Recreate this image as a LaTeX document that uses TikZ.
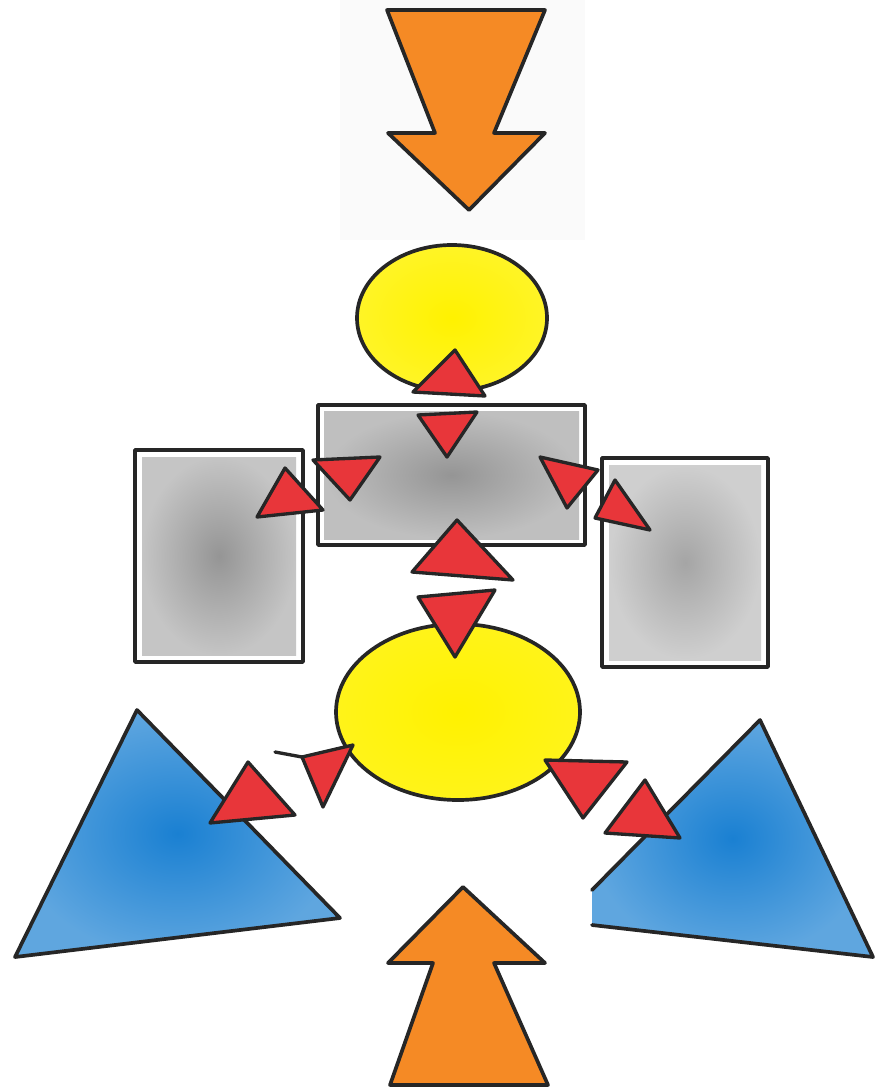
\documentclass[tikz,border=0pt]{standalone}
\usetikzlibrary{shapes.geometric}
\definecolor{torange}{HTML}{F58A25}
\definecolor{tyellow}{HTML}{FFF200}
\definecolor{tblue}{HTML}{1A80D2}
\definecolor{tred}{HTML}{E8363A}
\definecolor{tgray}{HTML}{959595}
\tikzset{
  ink/.style={draw=black!85, line width=2.1pt, line join=round, line cap=round},
  redtri/.style={ink, fill=tred, line width=1.9pt},
}
\begin{document}
\begin{tikzpicture}[x=0.02cm,y=-0.02cm]
\useasboundingbox (0,0) rectangle (879,1091);
\fill[white] (0,0) rectangle (879,1091);
% faint background behind top arrow
\fill[black!2] (340,0) rectangle (585,240);

% top arrow (pointing down)
\coordinate (ta1) at (387,10);
\coordinate (ta2) at (545,10);
\coordinate (ta3) at (494,133);
\coordinate (ta4) at (545,133);
\coordinate (ta5) at (469,210);
\coordinate (ta6) at (388,133);
\coordinate (ta7) at (435,133);
\fill[torange] (ta1) -- (ta2) -- (ta3) -- (ta4) -- (ta5) -- (ta6) -- (ta7) -- cycle;
\draw[ink] (ta1) -- (ta2) -- (ta3) -- (ta4) -- (ta5) -- (ta6) -- (ta7) -- cycle;

% top yellow circle
\shade[inner color=tyellow, outer color=tyellow!85!white] (452,318) ellipse [x radius=95, y radius=73];
\draw[ink] (452,318) ellipse [x radius=95, y radius=73];

% side gray rectangles
\shade[inner color=tgray, outer color=tgray!55] (142,457) rectangle (296,655);
\draw[ink] (135,450) rectangle (303,662);
\shade[inner color=tgray!85, outer color=tgray!45] (609,465) rectangle (761,660);
\draw[ink] (602,458) rectangle (768,667);

% center gray rectangle
\shade[inner color=tgray, outer color=tgray!60] (324,411) rectangle (579,539);
\draw[ink] (318,405) rectangle (585,545);

% bottom yellow circle
\shade[inner color=tyellow, outer color=tyellow!90!white] (458,712) ellipse [x radius=122, y radius=88];
\draw[ink] (458,712) ellipse [x radius=122, y radius=88];

% blue triangles
\shade[inner color=tblue, outer color=tblue!70!white] (137,710) -- (15,957) -- (340,918) -- cycle;
\draw[ink] (137,710) -- (15,957) -- (340,918) -- cycle;
\shade[inner color=tblue, outer color=tblue!70!white] (760,720) -- (873,957) -- (592,925) -- (592,890) -- cycle;
\draw[ink] (592,890) -- (760,720) -- (873,957) -- (592,925);

% bottom arrow (pointing up)
\coordinate (ba1) at (390,1085);
\coordinate (ba2) at (548,1085);
\coordinate (ba3) at (494,963);
\coordinate (ba4) at (545,963);
\coordinate (ba5) at (463,887);
\coordinate (ba6) at (388,963);
\coordinate (ba7) at (433,963);
\fill[torange] (ba1) -- (ba2) -- (ba3) -- (ba4) -- (ba5) -- (ba6) -- (ba7) -- cycle;
\draw[ink] (ba1) -- (ba2) -- (ba3) -- (ba4) -- (ba5) -- (ba6) -- (ba7) -- cycle;

% red triangles
\draw[redtri] (455,350) -- (413,392) -- (485,396) -- cycle;
\draw[redtri] (418,415) -- (477,412) -- (447,457) -- cycle;
\draw[redtri] (313,460) -- (380,457) -- (350,500) -- cycle;
\draw[redtri] (540,457) -- (598,470) -- (567,508) -- cycle;
\draw[redtri] (457,520) -- (412,572) -- (513,580) -- cycle;
\draw[redtri] (285,468) -- (257,517) -- (323,510) -- cycle;
\draw[redtri] (615,480) -- (650,530) -- (595,518) -- cycle;
\draw[redtri] (418,597) -- (495,590) -- (455,657) -- cycle;
\draw[redtri] (353,745) -- (302,757) -- (323,807) -- cycle;
\draw[ink, line width=1.9pt] (275,752) -- (302,757);
\draw[redtri] (248,762) -- (210,823) -- (295,815) -- cycle;
\draw[redtri] (545,760) -- (627,762) -- (583,818) -- cycle;
\draw[redtri] (645,780) -- (605,833) -- (680,838) -- cycle;
\end{tikzpicture}
\end{document}
